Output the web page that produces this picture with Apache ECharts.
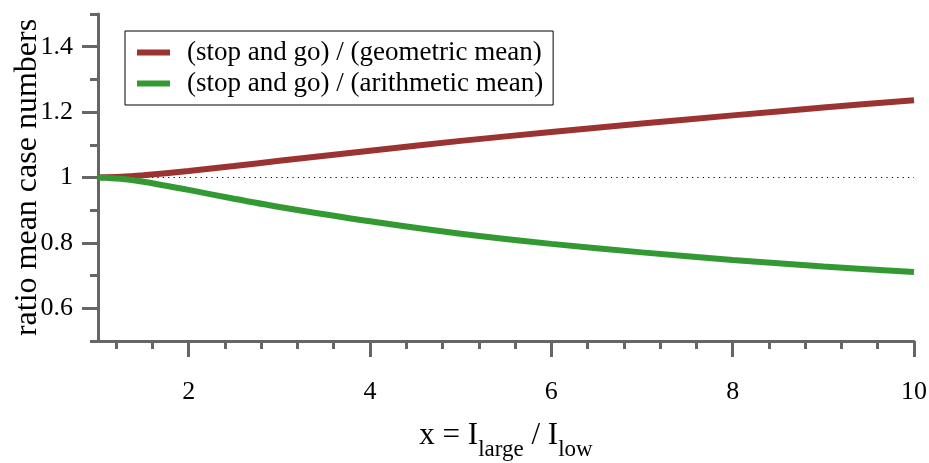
<!DOCTYPE html>
<html>
<head>
<meta charset="utf-8">
<script src="https://cdn.jsdelivr.net/npm/echarts@6/dist/echarts.min.js"></script>
<style>
html,body{margin:0;padding:0;background:#fff;}
#chart{width:929px;height:463px;}
</style>
</head>
<body>
<div id="chart"></div>
<script>
// x values (I_large / I_low)
const xValues = [1, 1.25, 1.5, 2, 2.5, 3, 4, 5, 6, 7, 8, 9, 10];
// (stop and go) / (geometric mean)
const geoRatio = [1.000, 1.002, 1.007, 1.020, 1.035, 1.051, 1.082, 1.112, 1.139, 1.165, 1.190, 1.214, 1.236];
// (stop and go) / (arithmetic mean)
const ariRatio = [1.000, 0.996, 0.987, 0.962, 0.935, 0.910, 0.866, 0.828, 0.797, 0.771, 0.748, 0.728, 0.711];
// reference line at ratio 1
const refX = [1, 10];
const refY = [1, 1];

const seriesNames = ['(stop and go) / (geometric mean)', '(stop and go) / (arithmetic mean)'];

const xMajorTicks = [2, 4, 6, 8, 10];
const xMinorTicks = [1.2, 1.6, 2.4, 2.8, 3.2, 3.6, 4.4, 4.8, 5.2, 5.6, 6.4, 6.8, 7.2, 7.6, 8.4, 8.8, 9.2, 9.6];
const yMajorTicks = [0.6, 0.8, 1, 1.2, 1.4];
const yMinorTicks = [0.5, 0.7, 0.9, 1.1, 1.3, 1.5];

const FONT = 'Liberation Serif';
const AX = '#666666';

function pairs(xs, ys) { return xs.map((x, i) => [x, ys[i]]); }

const tickLabelRich = {t: {fontFamily: FONT, fontSize: 26, color: '#000'}};

const chart = echarts.init(document.getElementById('chart'), null, {renderer: 'canvas'});
chart.setOption({
  animation: false,
  backgroundColor: '#ffffff',
  textStyle: {fontFamily: FONT},
  grid: {left: 98, right: 15, top: 14, bottom: 122, containLabel: false, outerBoundsMode: 'none'},
  legend: {
    orient: 'vertical',
    left: 125, top: 31,
    padding: [8, 10, 8, 12],
    borderColor: '#000', borderWidth: 1,
    itemWidth: 33, itemHeight: 6, itemGap: 4,
    icon: 'rect',
    data: seriesNames,
    textStyle: {fontFamily: FONT, fontSize: 27, color: '#000', padding: [0, 0, 0, 12], lineHeight: 27}
  },
  xAxis: [{
    type: 'value', min: 1, max: 10, position: 'bottom',
    axisLine: {show: true, onZero: false, lineStyle: {color: AX, width: 3}},
    axisTick: {show: true, customValues: xMajorTicks, length: 16, lineStyle: {color: AX, width: 3}},
    axisLabel: {customValues: xMajorTicks, margin: 38, fontFamily: FONT, fontSize: 26, color: '#000',
      formatter: v => '{t|' + v + '}', rich: tickLabelRich},
    splitLine: {show: false},
    name: 'x = I{sub|large} / I{sub|low}',
    nameLocation: 'middle', nameGap: 79, nameMoveOverlap: false,
    nameTextStyle: {
      fontFamily: FONT, fontSize: 31, color: '#000',
      rich: {
        sub: {fontFamily: FONT, fontSize: 23, color: '#000', lineHeight: 23, verticalAlign: 'top', padding: [18, 0, 0, 0]}
      },
      lineHeight: 31, verticalAlign: 'top'
    }
  }, {
    type: 'value', min: 1, max: 10, position: 'bottom',
    axisLine: {show: false, onZero: false},
    axisTick: {show: true, customValues: xMinorTicks, length: 8, lineStyle: {color: AX, width: 3}},
    axisLabel: {show: false},
    splitLine: {show: false}
  }],
  yAxis: [{
    type: 'value', min: 0.5, max: 1.5, position: 'left',
    axisLine: {show: true, onZero: false, lineStyle: {color: AX, width: 3}},
    axisTick: {show: true, customValues: yMajorTicks, length: 16, lineStyle: {color: AX, width: 3}},
    axisLabel: {customValues: yMajorTicks, margin: 25, fontFamily: FONT, fontSize: 26, color: '#000',
      formatter: v => '{t|' + v + '}', rich: tickLabelRich},
    splitLine: {show: false},
    name: 'ratio mean case numbers',
    nameLocation: 'middle', nameGap: 54, nameMoveOverlap: false,
    nameTextStyle: {fontFamily: FONT, fontSize: 32, color: '#000'}
  }, {
    type: 'value', min: 0.5, max: 1.5, position: 'left',
    axisLine: {show: false, onZero: false},
    axisTick: {show: true, customValues: yMinorTicks, length: 8, lineStyle: {color: AX, width: 3}},
    axisLabel: {show: false},
    splitLine: {show: false}
  }],
  series: [{
    name: 'reference', type: 'line', xAxisIndex: 0, yAxisIndex: 0,
    data: pairs(refX, refY), symbol: 'none', silent: true,
    lineStyle: {color: '#000', width: 1, type: [1.2, 4.2]}, z: 1
  }, {
    name: seriesNames[0], type: 'line', xAxisIndex: 0, yAxisIndex: 0,
    data: pairs(xValues, geoRatio), symbol: 'none', smooth: 0.3,
    color: '#9b3333',
    lineStyle: {color: '#9b3333', width: 6}, z: 3
  }, {
    name: seriesNames[1], type: 'line', xAxisIndex: 0, yAxisIndex: 0,
    data: pairs(xValues, ariRatio), symbol: 'none', smooth: 0.3,
    color: '#339933',
    lineStyle: {color: '#339933', width: 6}, z: 3
  }]
});
</script>
</body>
</html>
